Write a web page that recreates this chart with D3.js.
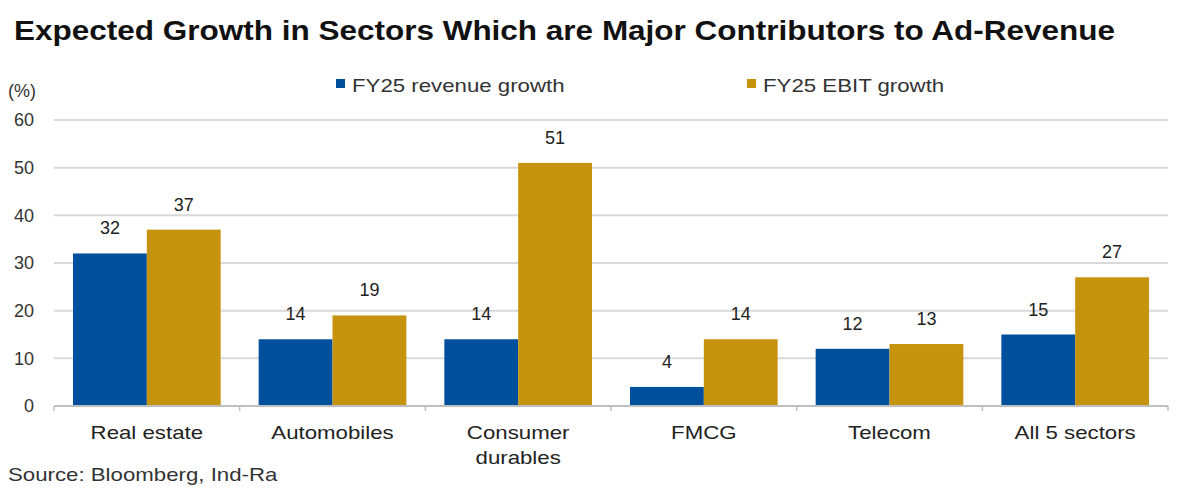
<!DOCTYPE html>
<html><head><meta charset="utf-8">
<script src="https://cdn.jsdelivr.net/npm/d3@7"></script>
<style>body{margin:0;background:#fff}svg{display:block}text{font-family:"Liberation Sans",Arial,sans-serif}</style>
</head><body>
<svg id="c" width="1200" height="494"></svg>
<script>
const categories = ["Real estate","Automobiles","Consumer durables","FMCG","Telecom","All 5 sectors"];
const categoryLines = [["Real estate"],["Automobiles"],["Consumer","durables"],["FMCG"],["Telecom"],["All 5 sectors"]];
const seriesNames = ["FY25 revenue growth","FY25 EBIT growth"];
const revenueGrowth = [32,14,14,4,12,15];
const ebitGrowth = [37,19,51,14,13,27];
const yTicks = [0,10,20,30,40,50,60];
const colors = ["#00509E","#C6930E"];

const svg = d3.select("#c");
const M = {left:54,right:1168,top:120,bottom:406};
const x = d3.scaleBand().domain(categories).range([M.left,M.right]).padding(0);
const y = d3.scaleLinear().domain([0,60]).range([M.bottom,M.top]);
const STRETCH = 1.17;
function stretch(sel, f){
  sel.each(function(){ const w=this.getComputedTextLength(); d3.select(this).attr("textLength",w*f).attr("lengthAdjust","spacingAndGlyphs"); });
}

// title
svg.append("text").attr("x",14).attr("y",40).attr("font-weight","bold").attr("font-size",28)
  .attr("fill","#111").attr("textLength",1101).attr("lengthAdjust","spacingAndGlyphs")
  .text("Expected Growth in Sectors Which are Major Contributors to Ad-Revenue");

// gridlines
svg.append("g").selectAll("line").data(yTicks.filter(d=>d>0)).join("line")
  .attr("x1",M.left).attr("x2",M.right).attr("y1",d=>y(d)).attr("y2",d=>y(d))
  .attr("stroke","#d9d9d9").attr("stroke-width",2);

// y labels
svg.append("g").selectAll("text").data(yTicks).join("text")
  .attr("x",34).attr("y",d=>y(d)).attr("dy","0.36em").attr("text-anchor","end")
  .attr("font-size",18).attr("fill","#333").text(d=>d);
svg.append("text").attr("x",8).attr("y",97).attr("font-size",18).attr("fill","#333").text("(%)");

// bars
const groupPad = 19;
const inner = d3.scaleBand().domain([0,1]).range([0, x.bandwidth()-2*groupPad]);
const data = categories.map((c,i)=>({c, v:[revenueGrowth[i], ebitGrowth[i]]}));
const g = svg.append("g").selectAll("g").data(data).join("g")
  .attr("transform",d=>`translate(${x(d.c)+groupPad},0)`);
g.selectAll("rect").data(d=>d.v.map((v,k)=>({v,k}))).join("rect")
  .attr("x",d=>inner(d.k)).attr("width",inner.bandwidth())
  .attr("y",d=>y(d.v)).attr("height",d=>y(0)-y(d.v)).attr("fill",d=>colors[d.k]);
g.selectAll("text").data(d=>d.v.map((v,k)=>({v,k}))).join("text")
  .attr("x",d=>inner(d.k)+inner.bandwidth()/2).attr("y",d=>y(d.v)-19)
  .attr("text-anchor","middle").attr("font-size",18).attr("fill","#222").text(d=>d.v);

// x axis
svg.append("line").attr("x1",M.left).attr("x2",M.right).attr("y1",y(0)).attr("y2",y(0))
  .attr("stroke","#bfbfbf").attr("stroke-width",2);
const bounds = categories.map(c=>x(c)).concat([M.right]);
svg.append("g").selectAll("line").data(bounds).join("line")
  .attr("x1",d=>d).attr("x2",d=>d).attr("y1",y(0)).attr("y2",y(0)+5)
  .attr("stroke","#bfbfbf").attr("stroke-width",1.5);
const labelData = [];
categories.forEach((c,i)=>categoryLines[i].forEach((l,j)=>labelData.push({c,l,j})));
svg.append("g").selectAll("text").data(labelData).join("text")
  .attr("x",d=>x(d.c)+x.bandwidth()/2).attr("y",d=>439+d.j*25).attr("text-anchor","middle")
  .attr("font-size",19).attr("fill","#222").text(d=>d.l).call(stretch, STRETCH);

// legend
const legX = [336,747];
seriesNames.forEach((s,i)=>{
  svg.append("rect").attr("x",legX[i]).attr("y",79).attr("width",9).attr("height",9).attr("fill",colors[i]);
  svg.append("text").attr("x",legX[i]+16).attr("y",92).attr("font-size",19).attr("fill","#333").text(s).call(stretch, STRETCH);
});

// source
svg.append("text").attr("x",8).attr("y",481).attr("font-size",19).attr("fill","#333")
  .text("Source: Bloomberg, Ind-Ra").call(stretch, STRETCH);
</script>
</body></html>
